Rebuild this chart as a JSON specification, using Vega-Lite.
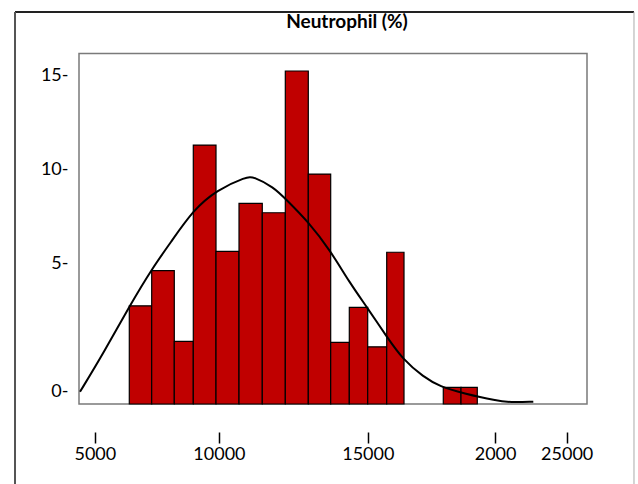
{
  "$schema": "https://vega.github.io/schema/vega-lite/v6.json",
  "width": 508,
  "height": 350.5,
  "autosize": "none",
  "padding": {"left": 79, "top": 53.5, "right": 51, "bottom": 80},
  "background": "white",
  "config": {
    "font": "Lato",
    "view": {"stroke": "#7a7a7a", "strokeWidth": 1.5}
  },
  "title": {
    "text": "Neutrophil (%)",
    "font": "Lato",
    "fontSize": 19,
    "fontWeight": "bold",
    "color": "#000000",
    "anchor": "middle",
    "dx": 14,
    "offset": -21
  },
  "datasets": {
    "bars": [
      {"x0": 6991, "x1": 7743, "count": 2.74},
      {"x0": 7743, "x1": 8502, "count": 4.61},
      {"x0": 8502, "x1": 9140, "count": 0.85},
      {"x0": 9140, "x1": 9903, "count": 11.29},
      {"x0": 9903, "x1": 10675, "count": 5.64},
      {"x0": 10675, "x1": 11457, "count": 8.19},
      {"x0": 11457, "x1": 12230, "count": 7.69},
      {"x0": 12230, "x1": 13002, "count": 15.23},
      {"x0": 13002, "x1": 13754, "count": 9.75},
      {"x0": 13754, "x1": 14379, "count": 0.8},
      {"x0": 14379, "x1": 14997, "count": 2.66},
      {"x0": 14997, "x1": 15635, "count": 0.56},
      {"x0": 15635, "x1": 16216, "count": 5.59},
      {"x0": 17535, "x1": 18130, "count": -1.6},
      {"x0": 18130, "x1": 18677, "count": -1.6}
    ],
    "curve": [
      {"x": 5336, "y": -1.83},
      {"x": 6118, "y": 0.21},
      {"x": 7015, "y": 2.78},
      {"x": 7797, "y": 4.82},
      {"x": 8358, "y": 6.06},
      {"x": 9140, "y": 7.84},
      {"x": 9926, "y": 8.9},
      {"x": 10934, "y": 9.61},
      {"x": 11155, "y": 9.61},
      {"x": 11827, "y": 9.07},
      {"x": 12277, "y": 8.37},
      {"x": 13002, "y": 7.21},
      {"x": 13731, "y": 5.71},
      {"x": 14402, "y": 3.94},
      {"x": 14963, "y": 2.69},
      {"x": 15635, "y": 1.1},
      {"x": 16192, "y": -0.14},
      {"x": 16864, "y": -1.03},
      {"x": 17425, "y": -1.56},
      {"x": 18207, "y": -1.91},
      {"x": 19329, "y": -2.31},
      {"x": 19775, "y": -2.39},
      {"x": 20558, "y": -2.36}
    ]
  },
  "layer": [
    {
      "data": {"name": "bars"},
      "mark": {"type": "bar", "fill": "#c00000", "stroke": "#000000", "strokeWidth": 1.2},
      "encoding": {
        "x": {
          "field": "x0",
          "type": "quantitative",
          "scale": {"domain": [5302, 22361], "nice": false, "zero": false},
          "axis": {
            "title": null,
            "values": [5833, 10000, 15000, 19275, 21679],
            "labelExpr": "datum.value < 6000 ? '5000' : datum.value < 12000 ? '10000' : datum.value < 17000 ? '15000' : datum.value < 20000 ? '2000' : '25000'",
            "domain": false,
            "grid": false,
            "offset": 28,
            "tickSize": 11,
            "tickColor": "#000000",
            "tickWidth": 1.5,
            "labelPadding": 2,
            "labelFont": "Lato",
            "labelFontSize": 18,
            "labelColor": "#000000"
          }
        },
        "x2": {"field": "x1"},
        "y": {
          "field": "count",
          "type": "quantitative",
          "scale": {"domain": [-2.48, 16.16], "nice": false, "zero": false},
          "axis": {
            "title": null,
            "values": [-1.83, 5, 10, 15],
            "labelExpr": "datum.value < 0 ? '0-' : datum.value + '-'",
            "domain": false,
            "grid": false,
            "ticks": false,
            "labelPadding": 11,
            "labelFont": "Lato",
            "labelFontSize": 18,
            "labelColor": "#000000"
          }
        },
        "y2": {"datum": -2.48}
      }
    },
    {
      "data": {"name": "curve"},
      "mark": {"type": "line", "color": "#000000", "strokeWidth": 2, "interpolate": "basis"},
      "encoding": {
        "x": {"field": "x", "type": "quantitative"},
        "y": {"field": "y", "type": "quantitative"}
      }
    },
    {
      "data": {"values": [{}]},
      "mark": {"type": "rule", "color": "#222222", "strokeWidth": 2},
      "encoding": {
        "x": {"datum": 3153},
        "x2": {"datum": 23939},
        "y": {"datum": 18.37}
      }
    },
    {
      "data": {"values": [{}]},
      "mark": {"type": "rule", "color": "#555555", "strokeWidth": 2},
      "encoding": {
        "x": {"datum": 3153},
        "y": {"datum": 18.37},
        "y2": {"datum": -7.06}
      }
    },
    {
      "data": {"values": [{}]},
      "mark": {"type": "rule", "color": "#aaaaaa", "strokeWidth": 1},
      "encoding": {
        "x": {"datum": 23939},
        "y": {"datum": 18.37},
        "y2": {"datum": -7.06}
      }
    }
  ]
}
